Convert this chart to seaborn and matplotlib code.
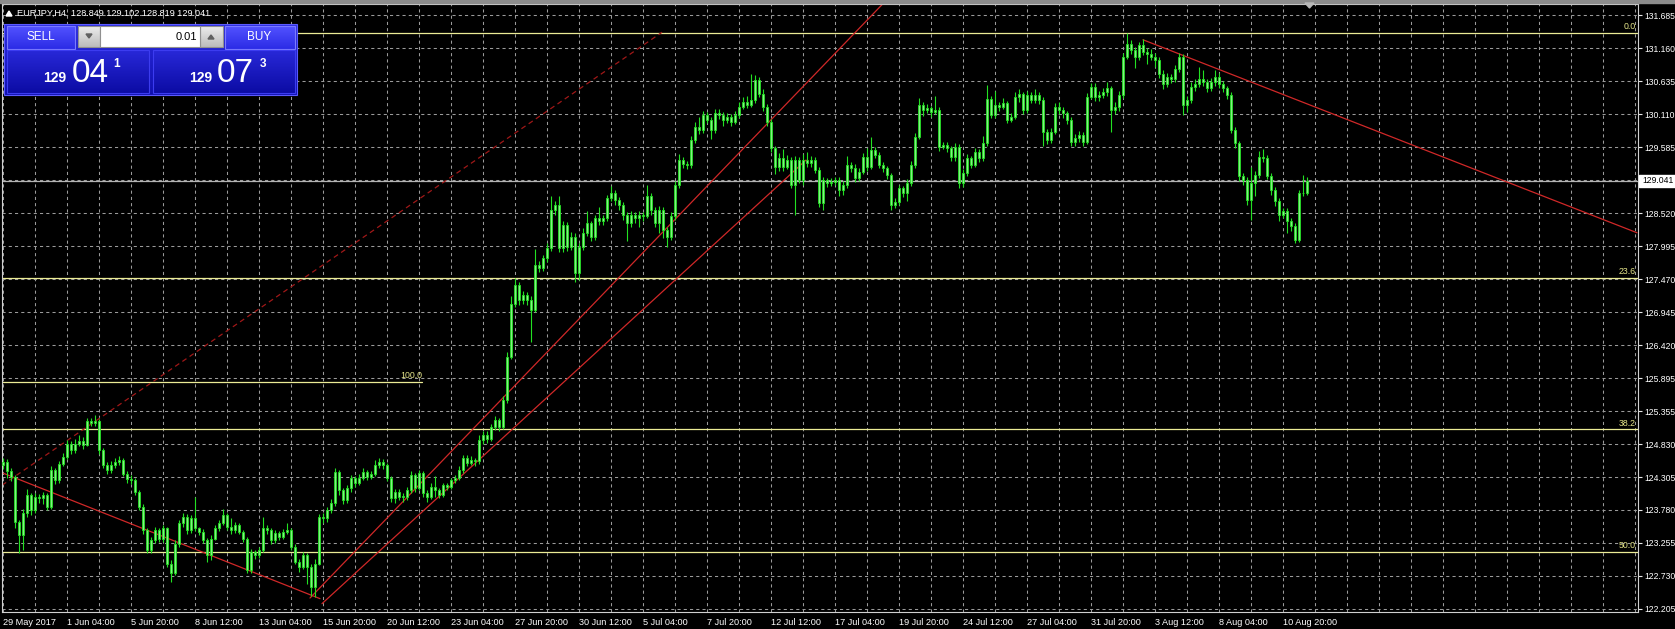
import numpy as np
import pandas as pd
import matplotlib
matplotlib.use("Agg")
import matplotlib.pyplot as plt
import seaborn as sns
from matplotlib.patches import Rectangle, Polygon

# ---------------- data (H4 candles, bar index 0 = 29 May 2017) ----------------
first_open = 124.50
closes = [
    124.55, 124.40, 124.31, 123.59, 123.38, 123.73, 124.02, 123.78, 123.99, 123.97,
    124.02, 123.84, 124.42, 124.26, 124.52, 124.63, 124.84, 124.74, 124.84, 124.89,
    124.83, 125.21, 125.17, 125.20, 124.74, 124.50, 124.42, 124.50, 124.55, 124.58,
    124.36, 124.28, 124.26, 124.07, 123.84, 123.46, 123.15, 123.30, 123.46, 123.33,
    123.49, 122.93, 122.78, 123.25, 123.57, 123.68, 123.46, 123.65, 123.49, 123.44,
    123.30, 123.07, 123.33, 123.49, 123.57, 123.70, 123.52, 123.46, 123.55, 123.44,
    123.33, 122.83, 123.12, 123.07, 123.15, 123.49, 123.46, 123.30, 123.41, 123.36,
    123.43, 123.46, 123.20, 122.96, 122.88, 123.07, 122.88, 122.56, 122.93, 123.68,
    123.65, 123.78, 123.89, 124.39, 124.10, 123.94, 124.13, 124.29, 124.21, 124.29,
    124.39, 124.31, 124.36, 124.50, 124.55, 124.50, 124.29, 123.97, 124.07, 124.00,
    123.99, 124.10, 124.34, 124.13, 124.37, 124.05, 124.00, 124.16, 124.10, 124.03,
    124.18, 124.16, 124.26, 124.29, 124.42, 124.61, 124.53, 124.58, 124.56, 124.90,
    124.98, 124.92, 125.11, 125.22, 125.11, 125.54, 126.23, 127.08, 127.38, 127.14,
    127.21, 127.13, 126.98, 127.69, 127.64, 127.80, 127.96, 128.57, 128.65, 127.96,
    128.33, 127.99, 128.15, 127.56, 127.99, 128.20, 128.36, 128.15, 128.44, 128.39,
    128.44, 128.76, 128.84, 128.73, 128.65, 128.49, 128.36, 128.49, 128.44, 128.49,
    128.47, 128.79, 128.57, 128.36, 128.57, 128.25, 128.15, 128.47, 128.97, 129.37,
    129.31, 129.29, 129.69, 129.90, 129.85, 130.09, 130.01, 129.85, 130.12, 130.09,
    130.01, 130.06, 129.98, 130.09, 130.22, 130.30, 130.25, 130.33, 130.65, 130.43,
    130.22, 129.98, 129.56, 129.26, 129.40, 129.26, 129.37, 128.97, 129.37, 129.05,
    129.37, 129.32, 129.37, 129.21, 128.68, 129.05, 129.00, 129.02, 129.05, 128.89,
    128.97, 129.29, 129.24, 129.08, 129.18, 129.42, 129.26, 129.53, 129.45, 129.29,
    129.24, 129.13, 128.65, 128.70, 128.92, 128.84, 129.00, 129.29, 129.74, 130.25,
    130.17, 130.20, 130.14, 130.17, 129.58, 129.61, 129.56, 129.42, 129.58, 129.00,
    129.16, 129.40, 129.29, 129.50, 129.40, 129.64, 130.35, 130.09, 130.25, 130.22,
    130.28, 130.01, 130.06, 130.38, 130.42, 130.17, 130.41, 130.33, 130.41, 130.33,
    129.82, 129.69, 129.82, 130.22, 130.17, 130.12, 130.01, 129.66, 129.72, 129.77,
    129.66, 130.38, 130.54, 130.38, 130.41, 130.46, 130.52, 130.17, 130.22, 130.41,
    131.02, 131.23, 131.13, 131.02, 131.21, 131.10, 131.07, 131.02, 130.97, 130.75,
    130.59, 130.70, 130.67, 130.83, 131.02, 130.25, 130.33, 130.54, 130.59, 130.67,
    130.62, 130.52, 130.62, 130.70, 130.59, 130.52, 130.41, 129.85, 129.64, 129.11,
    129.05, 128.73, 129.00, 129.13, 129.42, 129.40, 129.11, 128.89, 128.71, 128.49,
    128.55, 128.39, 128.31, 128.10, 128.84, 128.85, 129.04,
]
highs = [
    124.62, 124.60, 124.45, 124.35, 123.62, 123.80, 124.12, 124.05, 124.06, 124.04,
    124.08, 124.06, 124.48, 124.46, 124.56, 124.70, 124.90, 124.88, 124.92, 124.98,
    124.95, 125.25, 125.25, 125.30, 125.24, 124.78, 124.55, 124.56, 124.62, 124.65,
    124.62, 124.40, 124.34, 124.30, 124.10, 123.88, 123.50, 123.36, 123.52, 123.50,
    123.55, 123.52, 122.98, 123.30, 123.62, 123.74, 123.72, 123.70, 123.99, 123.52,
    123.48, 123.34, 123.38, 123.55, 123.62, 123.80, 123.74, 123.66, 123.60, 123.58,
    123.47, 123.36, 123.16, 123.15, 123.20, 123.68, 123.54, 123.50, 123.46, 123.45,
    123.48, 123.58, 123.50, 123.24, 123.00, 123.12, 123.10, 122.92, 123.00, 123.72,
    123.74, 123.84, 123.96, 124.45, 124.43, 124.14, 124.18, 124.34, 124.33, 124.36,
    124.46, 124.42, 124.40, 124.58, 124.62, 124.60, 124.54, 124.32, 124.12, 124.12,
    124.06, 124.16, 124.40, 124.38, 124.42, 124.40, 124.10, 124.22, 124.32, 124.14,
    124.22, 124.22, 124.30, 124.34, 124.48, 124.66, 124.66, 124.64, 124.62, 124.98,
    125.04, 125.04, 125.16, 125.28, 125.26, 125.60, 126.30, 127.20, 127.48, 127.42,
    127.28, 127.26, 127.20, 127.95, 127.76, 127.86, 128.04, 128.80, 128.72, 128.80,
    128.40, 128.38, 128.22, 128.20, 128.05, 128.28, 128.55, 128.40, 128.50, 128.62,
    128.50, 128.82, 128.96, 128.90, 128.78, 128.70, 128.54, 128.56, 128.54, 128.56,
    128.54, 128.98, 128.84, 128.62, 128.64, 128.62, 128.30, 128.54, 129.04, 129.46,
    129.42, 129.36, 129.76, 129.98, 130.06, 130.16, 130.14, 130.06, 130.18, 130.18,
    130.14, 130.12, 130.10, 130.16, 130.30, 130.38, 130.40, 130.75, 130.72, 130.70,
    130.50, 130.26, 130.02, 129.60, 129.48, 129.55, 129.45, 129.42, 129.44, 129.42,
    129.46, 129.50, 129.44, 129.42, 129.26, 129.10, 129.08, 129.08, 129.10, 129.10,
    129.04, 129.44, 129.34, 129.30, 129.24, 129.48, 129.56, 129.74, 129.58, 129.50,
    129.34, 129.28, 129.16, 128.76, 128.98, 128.96, 129.06, 129.36, 129.80, 130.36,
    130.30, 130.26, 130.24, 130.40, 130.22, 129.66, 129.66, 129.60, 129.64, 129.62,
    129.22, 129.46, 129.44, 129.56, 129.54, 129.76, 130.57, 130.40, 130.48, 130.30,
    130.36, 130.32, 130.12, 130.46, 130.50, 130.46, 130.48, 130.46, 130.50, 130.46,
    130.38, 129.86, 129.88, 130.28, 130.30, 130.22, 130.16, 130.06, 129.78, 129.84,
    129.82, 130.44, 130.60, 130.60, 130.48, 130.52, 130.62, 130.56, 130.30, 130.48,
    131.08, 131.40, 131.28, 131.18, 131.26, 131.30, 131.16, 131.14, 131.08, 131.02,
    130.80, 130.76, 130.74, 130.88, 131.08, 131.06, 130.40, 130.62, 130.66, 130.86,
    130.80, 130.66, 130.68, 130.80, 130.76, 130.64, 130.56, 130.45, 129.90, 129.68,
    129.16, 129.10, 129.26, 129.20, 129.52, 129.55, 129.45, 129.16, 128.94, 128.76,
    128.60, 128.60, 128.44, 128.36, 128.90, 129.13, 129.10,
]
lows = [
    124.44, 124.30, 124.24, 123.50, 123.10, 123.15, 123.68, 123.70, 123.74, 123.90,
    123.88, 123.78, 123.80, 124.20, 124.22, 124.48, 124.60, 124.68, 124.70, 124.80,
    124.76, 124.80, 125.12, 125.12, 124.68, 124.45, 124.36, 124.38, 124.46, 124.50,
    124.32, 124.22, 124.20, 124.02, 123.78, 123.40, 123.10, 123.10, 123.26, 123.28,
    123.28, 122.88, 122.64, 122.74, 123.20, 123.52, 123.40, 123.42, 123.45, 123.38,
    123.26, 122.95, 122.98, 123.30, 123.45, 123.54, 123.46, 123.40, 123.42, 123.40,
    123.28, 122.78, 122.78, 123.00, 123.02, 123.12, 123.40, 123.24, 123.26, 123.30,
    123.32, 123.40, 123.15, 122.92, 122.80, 122.84, 122.60, 122.42, 122.40, 122.90,
    123.58, 123.60, 123.74, 123.85, 124.02, 123.88, 123.90, 124.08, 124.16, 124.18,
    124.26, 124.26, 124.28, 124.32, 124.46, 124.44, 124.24, 123.92, 123.90, 123.94,
    123.92, 123.95, 124.06, 124.08, 124.10, 124.00, 123.92, 123.96, 124.00, 123.98,
    124.00, 124.10, 124.12, 124.22, 124.26, 124.38, 124.48, 124.50, 124.48, 124.52,
    124.84, 124.86, 124.88, 125.06, 125.04, 125.08, 125.50, 126.20, 127.02, 127.06,
    127.08, 127.06, 126.47, 126.94, 127.58, 127.60, 127.74, 127.92, 128.50, 127.90,
    127.90, 127.92, 127.94, 127.43, 127.45, 127.94, 128.16, 128.08, 128.10, 128.34,
    128.34, 128.40, 128.72, 128.66, 128.58, 128.42, 128.08, 128.30, 128.36, 128.30,
    128.40, 128.44, 128.50, 128.30, 128.20, 128.12, 127.98, 128.10, 128.42, 128.92,
    129.24, 129.22, 129.24, 129.64, 129.78, 129.80, 129.96, 129.70, 129.80, 130.02,
    129.92, 129.96, 129.92, 129.94, 130.04, 130.18, 130.20, 130.22, 130.28, 130.38,
    130.16, 129.92, 129.50, 129.14, 129.20, 129.20, 129.22, 128.92, 128.49, 129.00,
    128.98, 129.26, 129.26, 129.16, 128.62, 128.57, 128.94, 128.96, 128.98, 128.80,
    128.82, 128.92, 129.18, 129.02, 129.04, 129.14, 129.20, 129.22, 129.40, 129.24,
    129.18, 129.06, 128.57, 128.60, 128.66, 128.78, 128.72, 128.96, 129.24, 129.70,
    130.08, 130.12, 130.06, 130.10, 129.52, 129.54, 129.50, 129.36, 129.36, 128.92,
    128.94, 129.12, 129.24, 129.26, 129.34, 129.36, 129.60, 130.04, 130.04, 130.16,
    130.18, 129.96, 129.98, 130.02, 130.30, 130.10, 130.12, 130.28, 130.28, 130.26,
    129.60, 129.62, 129.64, 129.78, 130.10, 130.04, 129.94, 129.60, 129.60, 129.66,
    129.60, 129.62, 130.34, 130.32, 130.32, 130.36, 130.40, 129.82, 130.10, 130.16,
    130.36, 130.98, 131.06, 130.84, 130.96, 131.04, 130.90, 130.96, 130.86, 130.68,
    130.50, 130.54, 130.60, 130.62, 130.78, 130.09, 130.14, 130.28, 130.48, 130.54,
    130.56, 130.46, 130.48, 130.56, 130.52, 130.46, 130.34, 129.80, 129.56, 129.04,
    128.98, 128.66, 128.41, 128.80, 129.08, 129.34, 129.06, 128.82, 128.64, 128.40,
    128.44, 128.20, 128.24, 128.04, 128.06, 128.80, 128.82,
]

x_labels = ["29 May 2017", "1 Jun 04:00", "5 Jun 20:00", "8 Jun 12:00", "13 Jun 04:00",
            "15 Jun 20:00", "20 Jun 12:00", "23 Jun 04:00", "27 Jun 20:00", "30 Jun 12:00",
            "5 Jul 04:00", "7 Jul 20:00", "12 Jul 12:00", "17 Jul 04:00", "19 Jul 20:00",
            "24 Jul 12:00", "27 Jul 04:00", "31 Jul 20:00", "3 Aug 12:00", "8 Aug 04:00",
            "10 Aug 20:00"]
y_labels = ["122.205", "122.730", "123.255", "123.780", "124.305", "124.830", "125.355",
            "125.895", "126.420", "126.945", "127.470", "127.995", "128.520", "",
            "129.585", "130.110", "130.635", "131.160", "131.685"]
y_bottom, y_top = 122.205, 131.685

bid_price = 129.041
title_text = "EURJPY,H4  128.849 129.102 128.819 129.041"

fib_names = ["0.0", "23.6", "38.2", "50.0"]
fib_prices = [131.40, 127.49, 125.07, 123.12]
fib100_name = "100.0"
fib100_price = 125.83
fib100_end_bar = 104.75

# trend-line anchors (bar index, price)
trend_down_left = ([-0.25, 79.25], [124.38, 122.37])
channel_a = ([76.75, 219.75], [122.38, 131.85])
channel_b = ([79.75, 200.75], [122.29, 129.37])
dashed_up = ([-0.25, 164.75], [124.18, 131.41])
trend_down_right = ([285.0, 408.5], [131.29, 128.21])

# ---------------- figure ----------------
sns.set_theme(style="dark")
plt.rcParams["font.family"] = ["Liberation Sans", "DejaVu Sans"]

W, H = 1675, 629
fig = plt.figure(figsize=(W / 100, H / 100), dpi=100, facecolor="black")
ax_l, ax_r, ax_t, ax_b = 2, 1638, 4, 612
ax = fig.add_axes([ax_l / W, (H - ax_b) / H, (ax_r - ax_l) / W, (ax_b - ax_t) / H])
ax.set_facecolor("black")

n = min(len(closes), len(highs), len(lows))
c = np.array(closes[:n])
o = np.array([first_open] + closes[:n - 1])
h = np.array(highs[:n])
l = np.array(lows[:n])
xb = np.arange(n)

xmin, xmax = -0.25, 408.75
ymin, ymax = 122.157, 131.861
ygrid = np.linspace(y_bottom, y_top, len(y_labels))

# grid
ax.vlines(np.arange(0, 409, 8), ymin, ymax, colors="#9a9a9a", linewidth=0.75,
          linestyles=(0, (3, 3)), zorder=0.5)
ax.hlines(ygrid, xmin, xmax, colors="#9a9a9a", linewidth=0.75,
          linestyles=(0, (3, 3)), zorder=0.5)

# fibo lines
for name, p in zip(fib_names, fib_prices):
    sns.lineplot(x=[xmin, xmax], y=[p, p], ax=ax, color="#ecec96", linewidth=0.9, zorder=1)
    ax.text(xmax - 0.6, p + 0.025, name, color="#e6e68a", fontsize=6.3,
            ha="right", va="bottom", zorder=3)
sns.lineplot(x=[xmin, fib100_end_bar], y=[fib100_price, fib100_price], ax=ax,
             color="#ecec96", linewidth=0.9, zorder=1)
ax.text(fib100_end_bar, fib100_price + 0.025, fib100_name, color="#e6e68a",
        fontsize=6.3, ha="right", va="bottom", zorder=3)

# bid line
ax.axhline(bid_price, color="#b4b4b4", linewidth=0.9, zorder=1)

# trend lines
for (bx, py), ls, col in [(trend_down_left, "-", "#d02828"),
                          (channel_a, "-", "#d02828"),
                          (channel_b, "-", "#d02828"),
                          (dashed_up, (0, (4, 3)), "#a01818"),
                          (trend_down_right, "-", "#d02828")]:
    sns.lineplot(x=bx, y=py, ax=ax, color=col, linewidth=0.9, linestyle=ls,
                 estimator=None, sort=False, zorder=2)

# candles
ax.vlines(xb, l, h, colors="#22e022", linewidth=0.8, zorder=3)
body_lo = np.minimum(o, c)
body_h = np.maximum(np.abs(c - o), 0.012)
ax.bar(xb, body_h, bottom=body_lo, width=0.62, color="#86ee86",
       edgecolor="#22e022", linewidth=0.6, zorder=4)

ax.set_xlim(xmin, xmax)
ax.set_ylim(ymin, ymax)

# axes & ticks
ax.yaxis.tick_right()
ax.set_yticks(ygrid)
ax.set_yticklabels(y_labels)
ax.set_xticks(np.arange(0, 16 * len(x_labels), 16))
ax.set_xticklabels(x_labels, ha="left")
ax.tick_params(axis="both", colors="#e8e8e8", labelcolor="white",
               length=3, width=0.8, direction="out")
ax.tick_params(axis="y", pad=1.5, labelsize=6.2)
ax.tick_params(axis="x", pad=1.5, labelsize=6.6)
ax.grid(False)
for sp in ax.spines.values():
    sp.set_color("#d0d0d0")
    sp.set_linewidth(0.8)
    sp.set_visible(True)

# ---------------- overlay (UI elements in pixel coordinates) ----------------
ov = fig.add_axes([0, 0, 1, 1], zorder=10)
ov.set_xlim(0, W)
ov.set_ylim(H, 0)
ov.axis("off")
ov.patch.set_alpha(0)


def grad_rect(x0, y0, x1, y1, ctop, cbot, edge=None):
    a = np.array(matplotlib.colors.to_rgb(ctop))
    b = np.array(matplotlib.colors.to_rgb(cbot))
    t = np.linspace(0, 1, 32)[:, None]
    img = (a[None, :] * (1 - t) + b[None, :] * t)[:, None, :]
    ov.imshow(img, extent=(x0, x1, y1, y0), aspect="auto", origin="upper",
              interpolation="bilinear", zorder=11)
    if edge:
        ov.add_patch(Rectangle((x0, y0), x1 - x0, y1 - y0, fill=False,
                               edgecolor=edge, linewidth=0.8, zorder=12))


# top strip and chart-shift marker
ov.add_patch(Rectangle((0, 0), W, 2.5, color="#8c8c8c", zorder=11))
ov.add_patch(Polygon([(1305, 3), (1314, 3), (1309.5, 8)], closed=True,
                     color="#b8b8b8", zorder=12))

# title
ov.add_patch(Polygon([(6, 16), (12, 16), (9, 11)], closed=True, color="white", zorder=12))
ov.text(17, 13.5, title_text, color="white", fontsize=6.6, ha="left", va="center", zorder=12)

# one-click trading panel
grad_rect(4, 24, 297, 95, "#2d2de0", "#1010b0", edge="#5a5aff")
grad_rect(7, 26, 75, 49, "#5252ff", "#2c2ce6", edge="#7a7aff")
grad_rect(225, 26, 295, 49, "#5252ff", "#2c2ce6", edge="#7a7aff")
ov.text(41, 36.5, "SELL", color="white", fontsize=8.5, ha="center", va="center", zorder=13)
ov.text(259, 36.5, "BUY", color="white", fontsize=8.5, ha="center", va="center", zorder=13)
grad_rect(78, 26, 100, 47, "#ececec", "#bcbcbc", edge="#909090")
grad_rect(200, 26, 223, 47, "#ececec", "#bcbcbc", edge="#909090")
ov.add_patch(Rectangle((100, 26), 100, 21, facecolor="white", edgecolor="#909090",
                       linewidth=0.8, zorder=12))
ov.add_patch(Polygon([(86, 34), (92, 34), (89, 38)], closed=True, color="#606060", zorder=13))
ov.add_patch(Polygon([(208, 39), (214, 39), (211, 35)], closed=True, color="#606060", zorder=13))
ov.text(197, 36.5, "0.01", color="black", fontsize=8, ha="right", va="center", zorder=13)
grad_rect(7, 50, 149, 93, "#2828d8", "#0c0ca4", edge="#3c3cf0")
grad_rect(153, 50, 295, 93, "#2828d8", "#0c0ca4", edge="#3c3cf0")
for (x_small, x_big, x_sup, big, sup) in [(55, 90, 117, "04", "1"),
                                           (201, 235, 263, "07", "3")]:
    ov.text(x_small, 82, "129", color="white", fontsize=10, ha="center",
            va="baseline", zorder=13, fontweight="bold")
    ov.text(x_big, 82.5, big, color="white", fontsize=24, ha="center",
            va="baseline", zorder=13)
    ov.text(x_sup, 64, sup, color="white", fontsize=8.5, ha="center",
            va="center", zorder=13, fontweight="bold")

# bid price label on the price scale
y_bid_px = ax_t + (ymax - bid_price) / (ymax - ymin) * (ax_b - ax_t)
ov.add_patch(Rectangle((1639, y_bid_px - 6), 36, 12, facecolor="white",
                       edgecolor="white", zorder=12))
ov.text(1642, y_bid_px, f"{bid_price:.3f}", color="black", fontsize=6.2,
        ha="left", va="center", zorder=13)

fig.savefig("out.png", dpi=100, facecolor="black")
